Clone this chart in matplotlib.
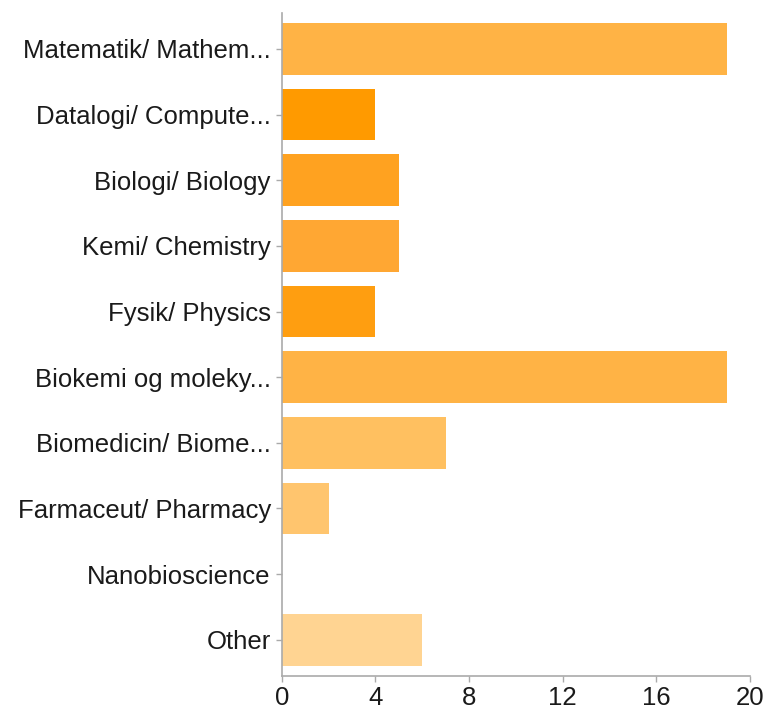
import matplotlib
matplotlib.use("Agg")
import matplotlib.pyplot as plt

categories = ["Matematik/ Mathem...", "Datalogi/ Compute...", "Biologi/ Biology",
              "Kemi/ Chemistry", "Fysik/ Physics", "Biokemi og moleky...",
              "Biomedicin/ Biome...", "Farmaceut/ Pharmacy", "Nanobioscience", "Other"]
values = [19, 4, 5, 5, 4, 19, 7, 2, 0, 6]
colors = ["#FFB345", "#FF9A00", "#FFA220", "#FFA733", "#FF9E10", "#FFB345",
          "#FFC060", "#FFC56E", "#FFCC80", "#FFD492"]
xticks = [0, 4, 8, 12, 16, 20]

plt.rcParams['font.family'] = ['Liberation Sans', 'DejaVu Sans']

fig = plt.figure(figsize=(7.66, 7.10), dpi=100)
ax = fig.add_axes([0.368, 0.048, 0.611, 0.934])

y = list(range(len(categories)))
ax.barh(y, values, height=0.79, color=colors, edgecolor='none')
ax.set_ylim(len(categories) - 0.5 + 0.05, -0.5 - 0.05)
ax.set_xlim(0, 20)
ax.set_yticks(y)
ax.set_yticklabels(categories)
ax.set_xticks(xticks)
ax.set_xticklabels([str(t) for t in xticks])

for s in ['top', 'right']:
    ax.spines[s].set_visible(False)
for s in ['left', 'bottom']:
    ax.spines[s].set_color('#aaaaaa')
    ax.spines[s].set_linewidth(1.2)
ax.tick_params(axis='both', colors='#aaaaaa', labelcolor='#1a1a1a', labelsize=18.5,
               length=4, width=1.0)
ax.tick_params(axis='y', pad=4)
ax.tick_params(axis='x', pad=3)

fig.savefig("out.png", dpi=100, facecolor='white')
